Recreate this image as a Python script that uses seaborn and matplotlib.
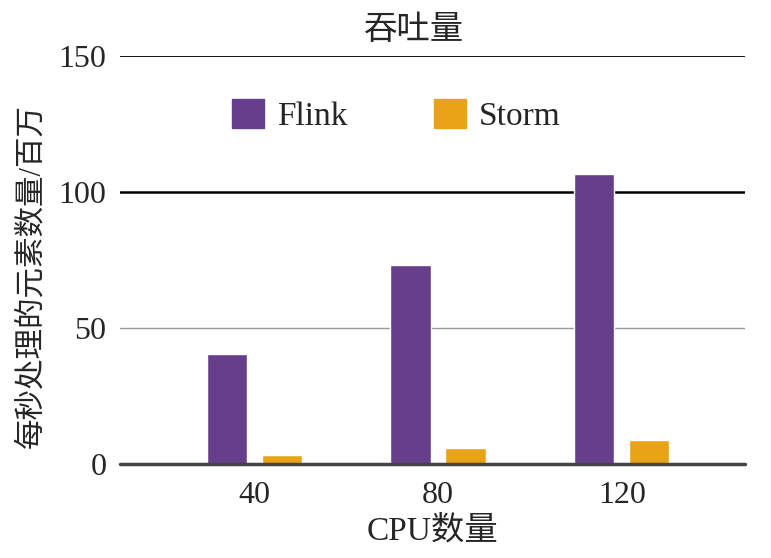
import pandas as pd
import matplotlib.pyplot as plt
import seaborn as sns
from matplotlib.patches import Patch

# 数据
cpus = ['40', '80', '120']
flink = [40.5, 73.2, 106.6]
storm = [3.3, 5.9, 8.8]

df = pd.DataFrame({
    'CPU数量': cpus * 2,
    '吞吐量': flink + storm,
    '系统': ['Flink'] * 3 + ['Storm'] * 3,
})

sns.set_style('white')
plt.rcParams['font.family'] = ['Liberation Serif', 'Noto Sans CJK SC']

fig, ax = plt.subplots(figsize=(7.71, 5.58), dpi=100)
colors = {'Flink': '#673e8c', 'Storm': '#e8a317'}

sns.barplot(data=df, x='CPU数量', y='吞吐量', hue='系统', palette=colors,
            width=0.6, gap=0.27, saturation=1, ax=ax, zorder=3, legend=False)

# 网格线
for y, c, lw in [(150, 'black', 1.3), (100, 'black', 1.8), (50, '#999999', 1.0)]:
    ax.axhline(y, color=c, lw=lw, zorder=1)
ax.axhline(0, color='#444444', lw=2.5, zorder=4, clip_on=False)

ax.set_ylim(0, 150)
ax.set_xlim(-0.73, 2.67)
ax.set_yticks([0, 50, 100, 150])
ax.tick_params(axis='both', labelsize=23, length=0)
ax.tick_params(axis='y', pad=10)
ax.tick_params(axis='x', pad=12)
for s in ax.spines.values():
    s.set_visible(False)

ax.set_title('吞吐量', fontsize=24, pad=12, x=0.47)
ax.set_xlabel('CPU数量', fontsize=24, labelpad=4)
ax.set_ylabel('每秒处理的元素数量/百万', fontsize=22)
ax.yaxis.set_label_coords(-0.118, 0.46)

handles = [Patch(color=colors[k]) for k in ['Flink', 'Storm']]
ax.legend(handles, ['Flink', 'Storm'], ncol=2, frameon=False, fontsize=24,
          loc='center left', bbox_to_anchor=(0.179, 0.853), borderpad=0,
          borderaxespad=0, handlelength=0.95, handleheight=0.95,
          columnspacing=2.6, handletextpad=0.4)

plt.subplots_adjust(left=0.156, right=0.966, top=0.9, bottom=0.168)
plt.savefig('out.png')
